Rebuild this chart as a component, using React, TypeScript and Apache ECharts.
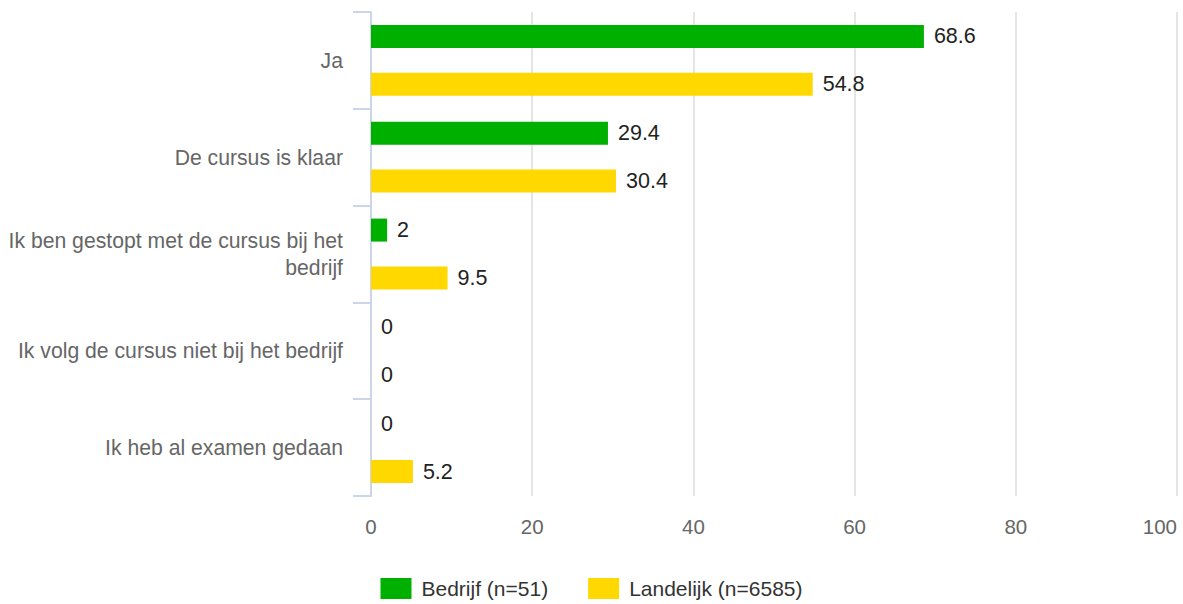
import React, { useEffect, useRef } from "react";
import * as echarts from "echarts";

const categories = [
  "Ja",
  "De cursus is klaar",
  "Ik ben gestopt met de cursus bij het bedrijf",
  "Ik volg de cursus niet bij het bedrijf",
  "Ik heb al examen gedaan",
];
const bedrijf = [68.6, 29.4, 2, 0, 0];
const landelijk = [54.8, 30.4, 9.5, 0, 5.2];
const seriesNames = ["Bedrijf (n=51)", "Landelijk (n=6585)"];
const xTicks = { min: 0, max: 100, interval: 20 };

const FONT = "'Liberation Sans', Arial, sans-serif";
const CAT_FONT_SIZE = 21.2;
const CAT_WIDTH = 345;

let measureCtx: CanvasRenderingContext2D | null = null;
function wrapLabel(text: string): string {
  if (!measureCtx) {
    const c = document.createElement("canvas");
    measureCtx = c.getContext("2d");
  }
  if (!measureCtx) return text;
  measureCtx.font = `${CAT_FONT_SIZE}px ${FONT}`;
  const words = text.split(" ");
  const lines: string[] = [];
  let cur = "";
  for (const w of words) {
    const test = cur ? cur + " " + w : w;
    if (cur && measureCtx.measureText(test).width > CAT_WIDTH) {
      lines.push(cur);
      cur = w;
    } else {
      cur = test;
    }
  }
  if (cur) lines.push(cur);
  return lines.join("\n");
}

export default function App() {
  const ref = useRef<HTMLDivElement>(null);
  useEffect(() => {
    if (!ref.current) return;
    const chart = echarts.init(ref.current, null, { renderer: "svg" });
    const label = {
      show: true,
      position: "right",
      distance: 10,
      fontSize: 21.5,
      color: "#222",
      fontFamily: FONT,
    };
    chart.setOption({
      animation: false,
      textStyle: { fontFamily: FONT },
      grid: {
        left: 371,
        right: 6,
        top: 12,
        bottom: 108,
        containLabel: false,
        outerBoundsMode: "none",
      },
      legend: {
        left: "center",
        top: 578,
        padding: 0,
        itemWidth: 31,
        itemHeight: 21,
        itemGap: 40,
        icon: "rect",
        textStyle: { fontSize: 21, color: "#333", fontFamily: FONT, padding: [2, 0, 0, 5] },
        data: seriesNames,
      },
      xAxis: {
        type: "value",
        min: xTicks.min,
        max: xTicks.max,
        interval: xTicks.interval,
        axisLine: { show: false },
        axisTick: { show: false },
        splitLine: { show: true, lineStyle: { color: "#dcdcdc", width: 1.5 } },
        axisLabel: {
          fontSize: 20.5,
          color: "#666",
          margin: 20,
          fontFamily: FONT,
          alignMaxLabel: "right",
        },
      },
      yAxis: {
        type: "category",
        inverse: true,
        data: categories,
        axisLine: { show: true, lineStyle: { color: "#ccd6eb", width: 2 } },
        axisTick: { show: true, length: 18, lineStyle: { color: "#ccd6eb", width: 2 } },
        axisLabel: {
          fontSize: CAT_FONT_SIZE,
          color: "#666",
          margin: 28,
          lineHeight: 27,
          align: "right",
          padding: [4, 0, 0, 0],
          fontFamily: FONT,
          formatter: (v: string) => wrapLabel(v),
        },
      },
      series: [
        {
          name: seriesNames[0],
          type: "bar",
          data: bedrijf,
          barWidth: 23,
          barGap: "108%",
          itemStyle: { color: "#00b000" },
          label,
        },
        {
          name: seriesNames[1],
          type: "bar",
          data: landelijk,
          barWidth: 23,
          barGap: "108%",
          itemStyle: { color: "#ffd800" },
          label,
        },
      ],
    });
    return () => chart.dispose();
  }, []);
  return (
    <div
      ref={ref}
      style={{ position: "fixed", left: 0, top: 0, width: 1183, height: 604, background: "#fff" }}
    />
  );
}
